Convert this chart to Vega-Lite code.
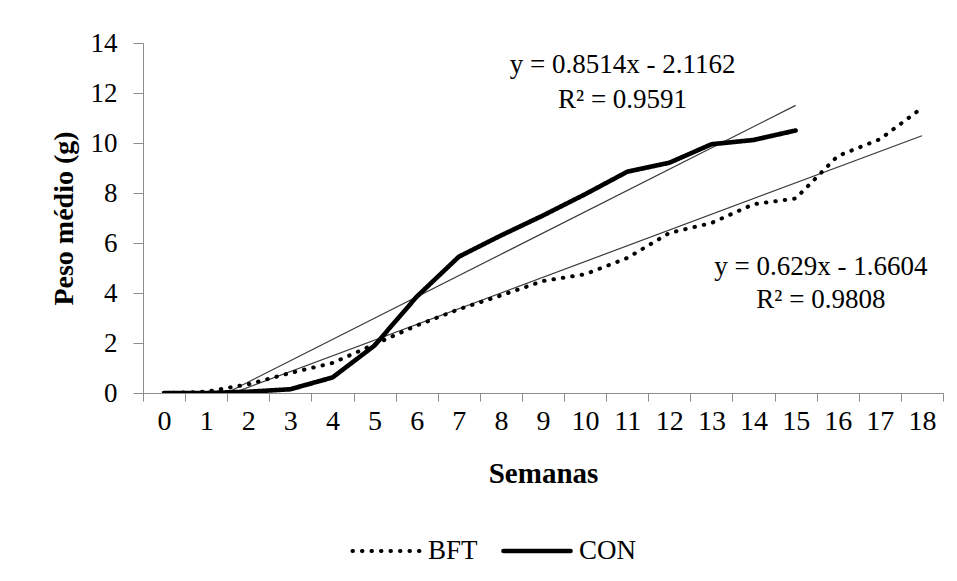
{
  "$schema": "https://vega.github.io/schema/vega-lite/v6.json",
  "width": 800,
  "height": 350,
  "autosize": {"type": "none"},
  "padding": {"left": 143, "top": 43, "right": 14, "bottom": 188},
  "background": "white",
  "config": {
    "view": {"stroke": null},
    "axis": {"labelColor": "black", "titleColor": "black", "domainColor": "#8c8c8c", "tickColor": "#8c8c8c", "grid": false}
  },
  "datasets": {
    "pesos": [
      {"semana": 0, "peso": 0.0, "grupo": "BFT"},
      {"semana": 1, "peso": 0.05, "grupo": "BFT"},
      {"semana": 2, "peso": 0.35, "grupo": "BFT"},
      {"semana": 3, "peso": 0.8, "grupo": "BFT"},
      {"semana": 4, "peso": 1.2, "grupo": "BFT"},
      {"semana": 5, "peso": 1.95, "grupo": "BFT"},
      {"semana": 6, "peso": 2.7, "grupo": "BFT"},
      {"semana": 7, "peso": 3.35, "grupo": "BFT"},
      {"semana": 8, "peso": 3.9, "grupo": "BFT"},
      {"semana": 9, "peso": 4.48, "grupo": "BFT"},
      {"semana": 10, "peso": 4.75, "grupo": "BFT"},
      {"semana": 11, "peso": 5.4, "grupo": "BFT"},
      {"semana": 12, "peso": 6.4, "grupo": "BFT"},
      {"semana": 13, "peso": 6.8, "grupo": "BFT"},
      {"semana": 14, "peso": 7.55, "grupo": "BFT"},
      {"semana": 15, "peso": 7.78, "grupo": "BFT"},
      {"semana": 16, "peso": 9.48, "grupo": "BFT"},
      {"semana": 17, "peso": 10.15, "grupo": "BFT"},
      {"semana": 18, "peso": 11.4, "grupo": "BFT"},
      {"semana": 0, "peso": 0.0, "grupo": "CON"},
      {"semana": 1, "peso": 0.0, "grupo": "CON"},
      {"semana": 2, "peso": 0.05, "grupo": "CON"},
      {"semana": 3, "peso": 0.15, "grupo": "CON"},
      {"semana": 4, "peso": 0.62, "grupo": "CON"},
      {"semana": 5, "peso": 1.9, "grupo": "CON"},
      {"semana": 6, "peso": 3.85, "grupo": "CON"},
      {"semana": 7, "peso": 5.45, "grupo": "CON"},
      {"semana": 8, "peso": 6.3, "grupo": "CON"},
      {"semana": 9, "peso": 7.1, "grupo": "CON"},
      {"semana": 10, "peso": 7.95, "grupo": "CON"},
      {"semana": 11, "peso": 8.85, "grupo": "CON"},
      {"semana": 12, "peso": 9.21, "grupo": "CON"},
      {"semana": 13, "peso": 9.95, "grupo": "CON"},
      {"semana": 14, "peso": 10.12, "grupo": "CON"},
      {"semana": 15, "peso": 10.5, "grupo": "CON"}
    ],
    "tendencias": [
      {"semana": 0, "peso": -1.0314, "grupo": "BFT"},
      {"semana": 18, "peso": 10.2916, "grupo": "BFT"},
      {"semana": 0, "peso": -1.2648, "grupo": "CON"},
      {"semana": 15, "peso": 11.5062, "grupo": "CON"}
    ],
    "equacoes": [
      {"semana": 10.89, "peso": 12.79, "texto": "y = 0.8514x - 2.1162"},
      {"semana": 10.89, "peso": 11.39, "texto": "R² = 0.9591"},
      {"semana": 15.6, "peso": 4.71, "texto": "y = 0.629x - 1.6604"},
      {"semana": 15.6, "peso": 3.39, "texto": "R² = 0.9808"}
    ]
  },
  "encoding": {
    "x": {
      "field": "semana", "type": "quantitative",
      "scale": {"domain": [-0.5, 18.5], "nice": false, "zero": false},
      "axis": {
        "title": "Semanas",
        "titleFont": "Liberation Serif",
        "titleFontSize": 29, "titleFontWeight": "bold",
        "titleX": 400, "titleY": 80, "titleBaseline": "middle", "titleAlign": "center",
        "values": [-0.5, 0.5, 1.5, 2.5, 3.5, 4.5, 5.5, 6.5, 7.5, 8.5, 9.5, 10.5, 11.5, 12.5, 13.5, 14.5, 15.5, 16.5, 17.5, 18.5],
        "labelExpr": "datum.value > 18 ? '' : format(datum.value + 0.5, 'd')",
        "labelOffset": 21.05,
        "labelFont": "Liberation Serif",
        "labelFontSize": 28,
        "labelPadding": 6,
        "tickSize": 8,
        "labelOverlap": false,
        "labelFlush": false
      }
    },
    "y": {
      "field": "peso", "type": "quantitative",
      "scale": {"domain": [0, 14], "nice": false, "zero": false},
      "axis": {
        "title": "Peso médio (g)",
        "titleFont": "Liberation Serif",
        "titleFontSize": 28, "titleFontWeight": "bold",
        "titleX": -79, "titleY": 175, "titleAngle": -90, "titleBaseline": "middle", "titleAlign": "center",
        "values": [0, 2, 4, 6, 8, 10, 12, 14],
        "labelFont": "Liberation Serif",
        "labelFontSize": 27,
        "labelPadding": 16,
        "tickSize": 10
      }
    }
  },
  "layer": [
    {
      "data": {"name": "tendencias"},
      "mark": {"type": "line", "color": "#3a3a3a", "strokeWidth": 1.2, "clip": true},
      "encoding": {"detail": {"field": "grupo", "type": "nominal"}}
    },
    {
      "data": {"name": "pesos"},
      "mark": {"type": "line", "color": "black", "strokeCap": "round", "strokeJoin": "round", "clip": true},
      "encoding": {
        "strokeDash": {
          "field": "grupo", "type": "nominal",
          "scale": {"domain": ["BFT", "CON"], "range": [[0.5, 9], [1, 0]]},
          "legend": {
            "title": null, "orient": "none", "legendX": 207, "legendY": 472,
            "direction": "horizontal", "symbolType": "stroke", "symbolSize": 4500,
            "symbolStrokeWidth": 4.2, "symbolStrokeColor": "black",
            "labelFont": "Liberation Serif",
            "labelFontSize": 27, "labelColor": "black", "labelOffset": 6, "columnPadding": 16,
            "encode": {"symbols": {"update": {"strokeCap": {"value": "round"}}}}
          }
        },
        "strokeWidth": {
          "field": "grupo", "type": "nominal",
          "scale": {"domain": ["BFT", "CON"], "range": [4, 4.6]},
          "legend": null
        }
      }
    },
    {
      "data": {"name": "equacoes"},
      "mark": {"type": "text", "align": "center", "baseline": "alphabetic", "fontSize": 27, "color": "black", "font": "Liberation Serif"},
      "encoding": {"text": {"field": "texto", "type": "nominal"}}
    }
  ]
}
